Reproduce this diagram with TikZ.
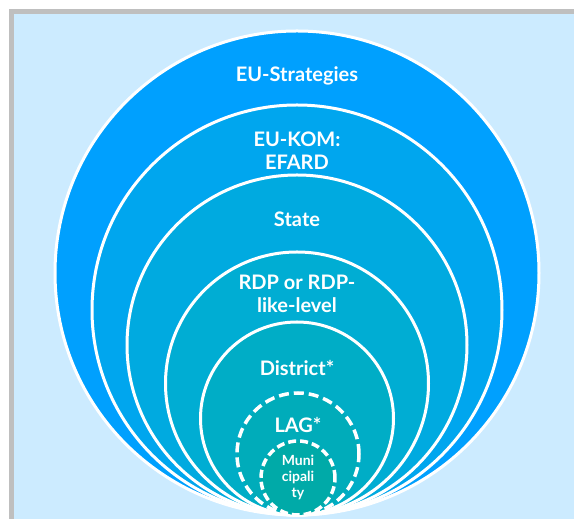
\documentclass[tikz,border=0pt]{standalone}
\usepackage{fontspec}
\setmainfont{Lato}
\definecolor{bgblue}{HTML}{CCEBFF}
\definecolor{frame}{HTML}{BFBFBF}
\definecolor{cA}{HTML}{00A0FE}
\definecolor{cB}{HTML}{00A6EE}
\definecolor{cC}{HTML}{00AAE0}
\definecolor{cD}{HTML}{00ADD3}
\definecolor{cE}{HTML}{00ADC6}
\definecolor{cF}{HTML}{00ACBA}
\definecolor{cG}{HTML}{00AAA8}
\begin{document}
\begin{tikzpicture}[x=1pt,y=1pt,
  ring/.style={draw=white,line width=3pt},
  dring/.style={draw=white,line width=3.5pt,dash pattern=on 10pt off 5pt},
  lbl/.style={text=white,align=center,font=\bfseries\fontsize{20}{23}\selectfont},
  slbl/.style={text=white,align=center,font=\bfseries\fontsize{14}{16}\selectfont}]
\useasboundingbox (0,0) rectangle (574,519);
\fill[white] (0,0) rectangle (574,519);
\fill[frame] (9,0) rectangle (574,510);
\fill[bgblue] (14,0) rectangle (574,505);
\path[ring,fill=cA] (297,246) circle[radius=242];
\path[ring,fill=cB] (297,209) circle[radius=205];
\path[ring,fill=cC] (297,174) circle[radius=170];
\path[ring,fill=cD] (297,135.5) circle[radius=131.5];
\path[ring,fill=cE] (297,100.5) circle[radius=96.5];
\path[dring,fill=cF] (298,65) circle[radius=61];
\path[dring,fill=cG,dash pattern=on 8pt off 4pt] (298,41) circle[radius=37];
\node[lbl] (eus) at (297,443) {EU-Strategies};
\node[lbl] (kom) at (297,368) {EU-KOM:\\EFARD};
\node[lbl] (state) at (297,300) {State};
\node[lbl] (rdp) at (297,225) {RDP or RDP-\\like-level};
\node[lbl] (dist) at (297,151) {District*};
\node[lbl] (lag) at (298,94) {LAG*};
\node[slbl] (muni) at (298,42) {Muni\\cipali\\ty};
\end{tikzpicture}
\end{document}
